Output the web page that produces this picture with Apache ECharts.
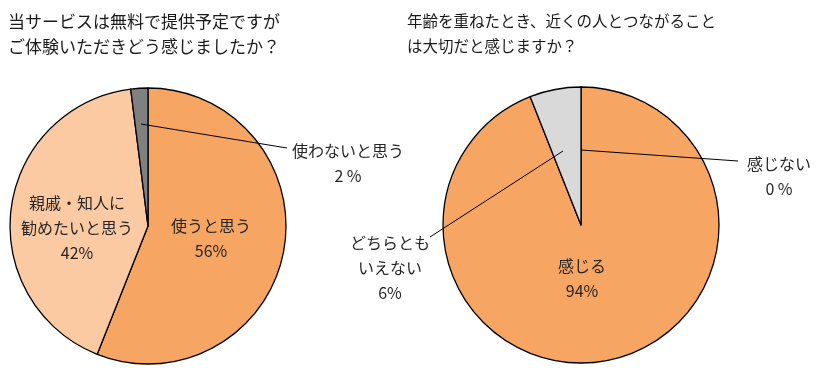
<!DOCTYPE html>
<html><head><meta charset="utf-8">
<script src="https://cdn.jsdelivr.net/npm/echarts@6/dist/echarts.min.js"></script>
<style>html,body{margin:0;padding:0;background:#fff}#c{width:823px;height:378px}</style>
</head><body><div id="c"></div>
<script>
// ---- data ----
const leftTitle = '当サービスは無料で提供予定ですが\nご体験いただきどう感じましたか？';
const leftNames = ['使うと思う', '親戚・知人に\n勧めたいと思う', '使わないと思う'];
const leftValues = [56, 42, 2];
const rightTitle = '年齢を重ねたとき、近くの人とつながること\nは大切だと感じますか？';
const rightNames = ['感じない', '感じる', 'どちらとも\nいえない'];
const rightValues = [0, 94, 6];

// ---- layout / style ----
const FONT = '"Noto Sans CJK JP", "Noto Sans", sans-serif';
const leftColors = ['#F7A562', '#FBCAA2', '#808080'];
const rightColors = ['#F7A562', '#F7A562', '#D9D9D9'];
const leftPctSep = ['', '', ' '];
const rightPctSep = [' ', '', ''];
// label anchor (center) per slice
const leftLabelPos = [[211, 238], [77, 228], [348, 163]];
const rightLabelPos = [[779, 176], [582, 278], [390, 268]];
// leader lines (annotations)
const leaderLines = [
  [141, 124, 287, 148],
  [581, 150, 738, 161],
  [563, 151, 430, 237]
];

const chart = echarts.init(document.getElementById('c'), null, {renderer: 'canvas'});

function makeSeries(names, values, colors, seps, pos, center) {
  return {
    type: 'pie',
    radius: 138,
    center: center,
    startAngle: 90,
    clockwise: true,
    animation: false,
    silent: true,
    avoidLabelOverlap: false,
    minShowLabelAngle: -1,
    data: names.map((n, i) => ({
      name: n, value: values[i],
      itemStyle: {color: colors[i]}
    })),
    itemStyle: {borderColor: '#000', borderWidth: 1.3},
    label: {
      show: true,
      position: 'outside',
      fontFamily: FONT,
      fontSize: 16,
      lineHeight: 25,
      color: '#262626',
      align: 'center',
      formatter: p => p.name + '\n' + p.value + seps[p.dataIndex] + '%'
    },
    labelLine: {show: false},
    labelLayout: p => {
      const i = p.dataIndex;
      return {x: pos[i][0], y: pos[i][1], align: 'center', verticalAlign: 'middle'};
    }
  };
}

chart.setOption({
  backgroundColor: '#fff',
  title: [
    {text: leftTitle, left: 8, top: 9, padding: 0,
     textStyle: {fontFamily: FONT, fontSize: 17, fontWeight: 'normal', lineHeight: 25, color: '#1a1a1a'}},
    {text: rightTitle, left: 407, top: 9, padding: 0,
     textStyle: {fontFamily: FONT, fontSize: 15.5, fontWeight: 'normal', lineHeight: 25, color: '#1a1a1a'}}
  ],
  graphic: leaderLines.map(l => ({
    type: 'line', z: 100, silent: true,
    shape: {x1: l[0], y1: l[1], x2: l[2], y2: l[3]},
    style: {stroke: '#000', lineWidth: 1}
  })),
  series: [
    makeSeries(leftNames, leftValues, leftColors, leftPctSep, leftLabelPos, [148, 226]),
    makeSeries(rightNames, rightValues, rightColors, rightPctSep, rightLabelPos, [581, 225])
  ]
});
</script></body></html>
